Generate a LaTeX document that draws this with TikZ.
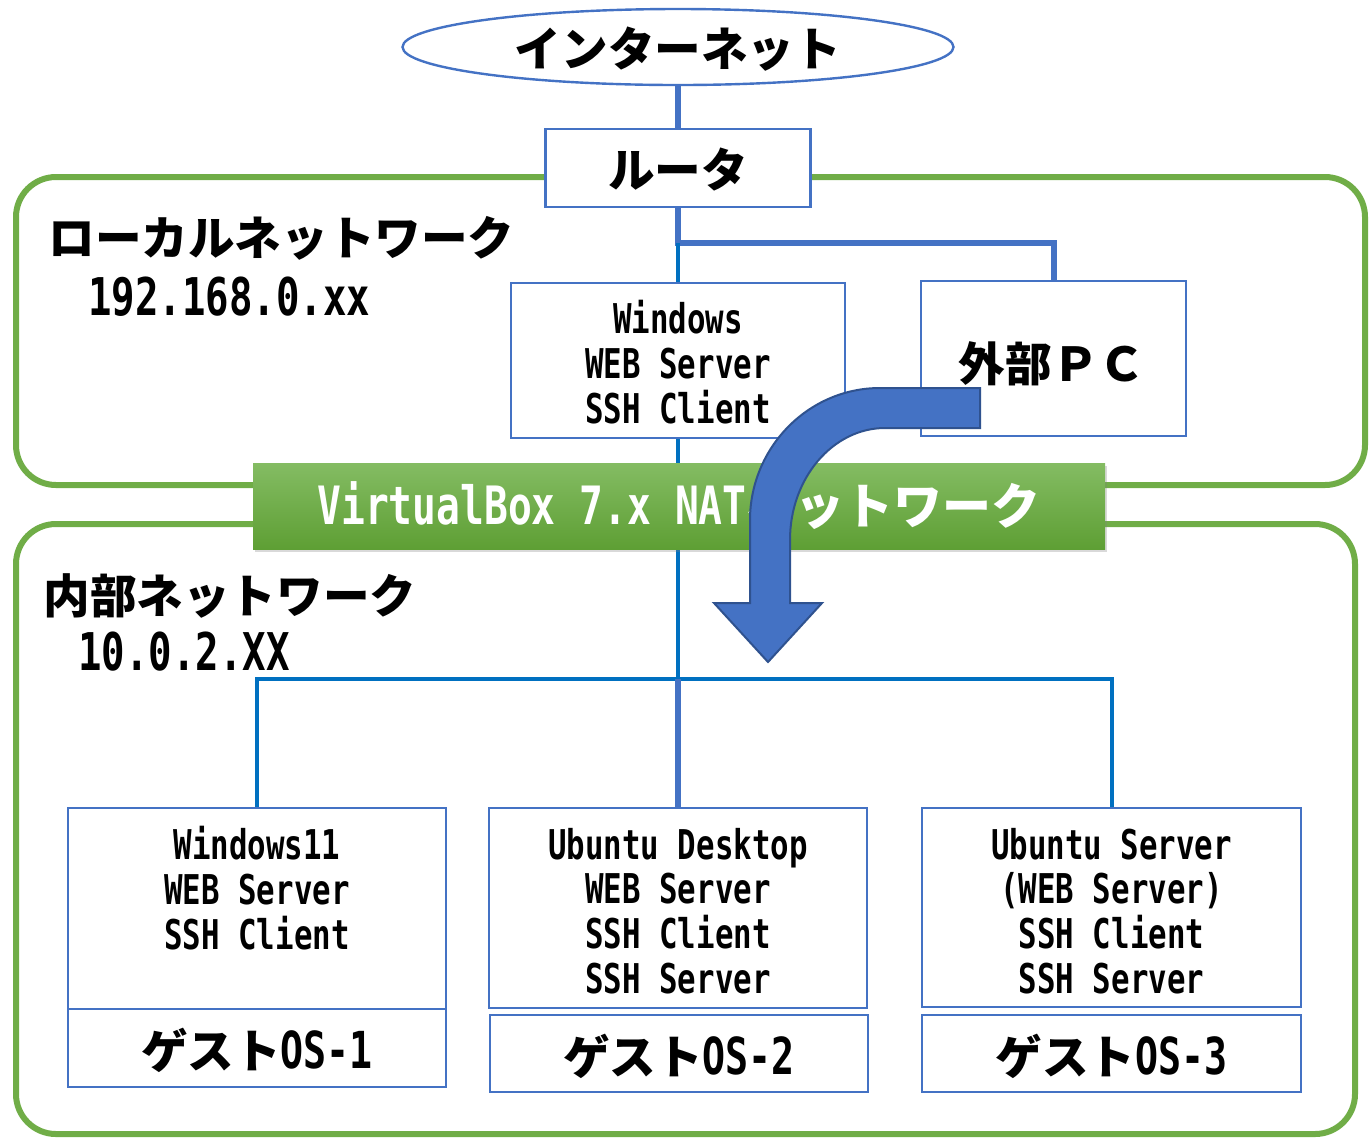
\documentclass[tikz,border=0pt]{standalone}
\usepackage{fontspec}
\newfontfamily\jp{Noto Sans CJK JP}
\newfontfamily\lat{DejaVu Sans Mono}[FakeStretch=0.75]
\usetikzlibrary{shapes.geometric,shadows}
\definecolor{accblue}{HTML}{4472C4}
\definecolor{darkblue}{HTML}{0070C0}
\definecolor{grn}{HTML}{70AD47}
\definecolor{navy}{HTML}{2F528F}
\definecolor{gtop}{HTML}{84BC63}
\definecolor{gbot}{HTML}{5E9F34}
\newcommand\myLat[2]{{\lat\bfseries\fontsize{#1}{#1}\selectfont #2}}
\begin{document}
\begin{tikzpicture}[x=0.5pt,y=-0.5pt,
  netbox/.style={draw=grn,line width=3pt,rounded corners=20pt,inner sep=0pt},
  box/.style={draw=accblue,line width=1.2pt,fill=white,inner sep=0pt},
  thickline/.style={draw=accblue,line width=3pt},
  thinline/.style={draw=darkblue,line width=1.8pt},
  midline/.style={draw=darkblue,line width=2pt},
  jpt/.style={font=\jp\bfseries\fontsize{23.3pt}{28pt}\selectfont,inner sep=0pt},
  latt/.style={font=\lat\bfseries\fontsize{20.5pt}{22.35pt}\selectfont,align=center,inner sep=0pt},
  vbbox/.style={top color=gtop,bottom color=gbot,minimum width=426pt,minimum height=43pt,
    inner sep=0pt,text=white,drop shadow={opacity=0.3,shadow xshift=1pt,shadow yshift=-1.5pt}},
  arrowshape/.style={fill=accblue,draw=navy,line width=1pt,line join=miter}
]
\useasboundingbox (0,0) rectangle (1370,1137);

% network areas
\node[netbox,minimum width=674.5pt,minimum height=154pt] (lan) at (690.5,331) {};
\node[netbox,minimum width=669.5pt,minimum height=305pt] (inner) at (685.5,829) {};

% area labels
\node[jpt,anchor=west] (lanlbl) at (48,238) {ローカルネットワーク};
\node[anchor=west,inner sep=0pt] (lanip) at (88,297) {\myLat{26pt}{192.168.0.xx}};
\node[jpt,anchor=west] (inlbl) at (43,596) {内部ネットワーク};
\node[anchor=west,inner sep=0pt] (inip) at (78,652) {\myLat{26pt}{10.0.2.XX}};

% internet and router
\node[box,ellipse,minimum width=275.5pt,minimum height=38pt] (inet) at (678,47) {};
\node[jpt] (inett) at (678,49) {インターネット};
\node[box,minimum width=132.5pt,minimum height=39pt] (router) at (678,168) {};
\node[jpt] (routert) at (678,170) {ルータ};

% host side boxes
\node[box,minimum width=167pt,minimum height=77.5pt] (win) at (678,360.5) {};
\node[latt] (wint) at (678,362) {Windows\\WEB Server\\SSH Client};
\node[box,minimum width=132.5pt,minimum height=77.5pt] (pc) at (1053.5,358.5) {};
\node[jpt] (pct) at (1052,364) {外部ＰＣ};

% guest boxes
\node[box,minimum width=189pt,minimum height=100.5pt] (g1u) at (257,908.5) {};
\node[box,minimum width=189pt,minimum height=39pt] (g1l) at (257,1048) {};
\node[box,minimum width=189pt,minimum height=100pt] (g2u) at (678,908) {};
\node[box,minimum width=189pt,minimum height=38.5pt] (g2l) at (679,1053.5) {};
\node[box,minimum width=189.5pt,minimum height=99.5pt] (g3u) at (1111.5,907.5) {};
\node[box,minimum width=189.5pt,minimum height=38.5pt] (g3l) at (1111.5,1053.5) {};

\node[latt] (g1t) at (257,888) {Windows11\\WEB Server\\SSH Client};
\node[latt] (g2t) at (678,911) {Ubuntu Desktop\\WEB Server\\SSH Client\\SSH Server};
\node[latt] (g3t) at (1111.5,911) {Ubuntu Server\\(WEB Server)\\SSH Client\\SSH Server};

\node[jpt] (g1lt) at (257,1050) {ゲスト\myLat{25.5pt}{OS-1}};
\node[jpt] (g2lt) at (679,1056) {ゲスト\myLat{25.5pt}{OS-2}};
\node[jpt] (g3lt) at (1111.5,1056) {ゲスト\myLat{25.5pt}{OS-3}};

% connectors
\coordinate (j1) at (678,243);
\coordinate (j2) at (678,679);
\draw[thickline] (inet.south) -- (router.north);
\draw[thickline] (router.south) -- (j1) -| (pc.north);
\draw[thinline] (j1) -- (win.north);
\draw[thinline] (win.south) -- (j2);
\draw[midline] (g1u.north) |- (j2) -| (g3u.north);
\draw[thickline] (j2) -- (g2u.north);

% VirtualBox NAT network bar
\node[vbbox] (vb) at (679,506) {\myLat{26.4pt}{VirtualBox 7.x NAT}{\jp\bfseries\fontsize{24.5pt}{28pt}\selectfont ネットワーク}};

% big curved arrow
\draw[arrowshape] (980,388) -- (880,388)
  .. controls (808,388) and (750,448) .. (750,520)
  -- (750,603) -- (714,603) -- (768,662) -- (822,603) -- (790,603) -- (790,540)
  .. controls (790,478) and (833,428) .. (885,428)
  -- (980,428) -- cycle;
\end{tikzpicture}
\end{document}
